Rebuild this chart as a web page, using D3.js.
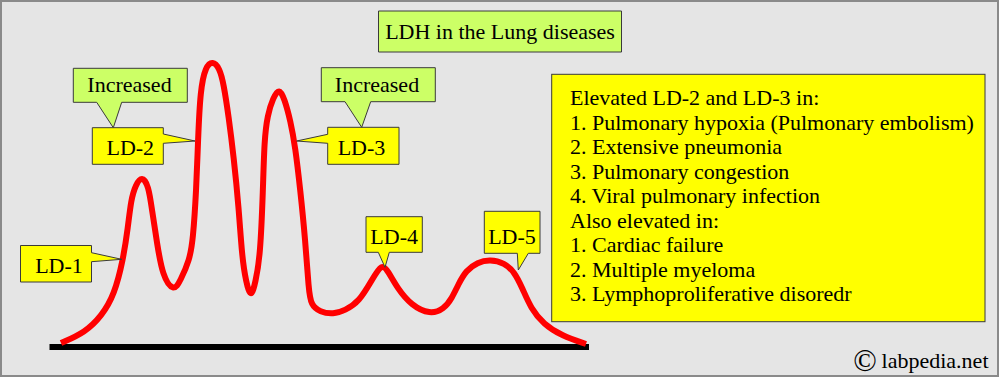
<!DOCTYPE html>
<html>
<head>
<meta charset="utf-8">
<script src="https://cdn.jsdelivr.net/npm/d3@7"></script>
<style>
  body { margin: 0; background: #fff; }
  svg { display: block; }
  text { font-family: "Liberation Serif", "Tinos", "Times New Roman", "DejaVu Serif", serif; }
</style>
</head>
<body>
<div id="chart"></div>
<script>
// Densitometry trace: migration distance vs. density (arbitrary units)
const traceX = [2, 26, 43, 55.3, 64, 69, 72, 76.5, 83, 89.5, 93, 98, 103.5, 114.5, 121.5,
  130.5, 134, 137.3, 139, 141.3, 146.5, 153.7, 160.5, 164.7, 169.7, 174.7, 179.7, 183, 187,
  192, 196.5, 201.3, 204, 205.3, 208.5, 214, 220.3, 225.5, 231.5, 236.3, 241.3, 246.3, 249.7,
  252, 261, 274.3, 286, 300, 313.5, 322.7, 329, 338.5, 352.5, 371, 385, 393, 399, 407,
  418.5, 431, 445.5, 455.5, 463.3, 472, 484.5, 503, 527];
const traceY = [3, 13.5, 30.5, 51.5, 85.5, 119, 146, 161, 170, 160.5, 136, 103, 70, 54, 65.5,
  86, 106, 156, 206, 256, 279.5, 285, 278, 262, 229, 189, 139, 89, 64,
  47, 64, 90, 156, 206, 231, 248, 258, 247, 225, 199, 156, 106, 56,
  41, 34, 31.7, 35.7, 44, 67, 82.5, 75, 57.5, 40.5, 31.5, 37, 48, 61, 75.5,
  83.7, 86.5, 83, 74, 58, 37.5, 22, 10, 2];

// Isoenzyme bands and where each label points on the trace
const bands = ["LD-1", "LD-2", "LD-3", "LD-4", "LD-5"];
const bandTipX = [62.7, 136, 237.7, 326, 459.3];
const bandTipY = [86.7, 205, 205, 78.7, 76];

const title = "LDH in the Lung diseases";
const flagText = "Increased";
const notes = [
  "Elevated LD-2 and LD-3 in:",
  "1. Pulmonary hypoxia (Pulmonary embolism)",
  "2. Extensive pneumonia",
  "3. Pulmonary congestion",
  "4. Viral pulmonary infection",
  "Also elevated in:",
  "1. Cardiac failure",
  "2. Multiple myeloma",
  "3. Lymphoproliferative disoredr"
];
const credit = "labpedia.net";

const W = 1000, H = 378;
const yellow = "#ffff00", green = "#ccff66", edge = "#3a3a3a";

const x = d3.scaleLinear().domain([0, 530]).range([59, 589]);
const y = d3.scaleLinear().domain([0, 290]).range([346, 56]);

const svg = d3.select("#chart").append("svg")
  .attr("width", W).attr("height", H);

// background + frame
svg.append("rect")
  .attr("x", 1).attr("y", 1).attr("width", W - 3).attr("height", H - 3)
  .attr("fill", "#e5e5e5").attr("stroke", "#8a8a8a").attr("stroke-width", 2);

// box with a triangular pointer on one side
function callout(b, side, p0, p1, tip) {
  const p = d3.path();
  const r = b.x + b.w, btm = b.y + b.h;
  p.moveTo(b.x, b.y);
  p.lineTo(r, b.y);
  if (side === "right") { p.lineTo(r, p0); p.lineTo(tip[0], tip[1]); p.lineTo(r, p1); }
  p.lineTo(r, btm);
  if (side === "bottom") { p.lineTo(p1, btm); p.lineTo(tip[0], tip[1]); p.lineTo(p0, btm); }
  p.lineTo(b.x, btm);
  if (side === "left") { p.lineTo(b.x, p1); p.lineTo(tip[0], tip[1]); p.lineTo(b.x, p0); }
  p.closePath();
  return p.toString();
}

function drawBox(b, side, p0, p1, tip, fill, label, tx, ty) {
  svg.append("path")
    .attr("d", callout(b, side, p0, p1, tip))
    .attr("fill", fill).attr("stroke", edge).attr("stroke-width", 1);
  if (label) {
    svg.append("text")
      .attr("x", tx).attr("y", ty)
      .attr("text-anchor", "middle")
      .attr("font-size", 22)
      .attr("fill", "#000")
      .text(label);
  }
}

// title
drawBox({x: 378.5, y: 11, w: 243, h: 41}, null, 0, 0, null, green, title, 500, 39);

// base line
svg.append("rect")
  .attr("x", 49.5).attr("y", 344).attr("width", 539.5).attr("height", 6)
  .attr("fill", "#000");

// trace
const line = d3.line()
  .x(d => x(d[0])).y(d => y(d[1]))
  .curve(d3.curveBasis);

svg.append("path")
  .datum(traceX.map((v, i) => [v, traceY[i]]))
  .attr("d", line)
  .attr("fill", "none")
  .attr("stroke", "#ff0000")
  .attr("stroke-width", 6)
  .attr("stroke-linejoin", "round");

const tips = bands.map((b, i) => [x(bandTipX[i]), y(bandTipY[i])]);

// band labels
drawBox({x: 20.5, y: 245.5, w: 71, h: 36.5}, "right", 252.7, 261.7, tips[0], yellow, bands[0], 59, 272.5);
drawBox({x: 92.3, y: 127.7, w: 71, h: 36.6}, "right", 134, 143.3, tips[1], yellow, bands[1], 130.3, 154.5);
drawBox({x: 327.7, y: 127.3, w: 71.3, h: 37}, "left", 134.3, 143.3, tips[2], yellow, bands[2], 361.5, 154.5);
drawBox({x: 366, y: 216.7, w: 56.3, h: 35.6}, "bottom", 378.3, 389.3, tips[3], yellow, bands[3], 394.2, 243.5);
drawBox({x: 484.3, y: 211.3, w: 55.7, h: 42}, "bottom", 517.3, 528.3, tips[4], yellow, bands[4], 512, 244);

// "Increased" flags point at the LD-2 and LD-3 boxes
drawBox({x: 73.3, y: 68.3, w: 114, h: 34}, "bottom", 96.7, 121.7, [113.3, 127.7], green, flagText, 129.5, 92.3);
drawBox({x: 321.3, y: 67.7, w: 114, h: 34}, "bottom", 345, 370.7, [361.7, 127.3], green, flagText, 377, 91.7);

// notes box
svg.append("rect")
  .attr("x", 551.7).attr("y", 74.3).attr("width", 433.3).attr("height", 247.4)
  .attr("fill", yellow).attr("stroke", edge).attr("stroke-width", 1);

svg.append("g")
  .selectAll("text")
  .data(notes)
  .join("text")
  .attr("x", 570)
  .attr("y", (d, i) => 105 + i * 24.5)
  .attr("font-size", 22)
  .attr("fill", "#000")
  .text(d => d);

// credit
svg.append("text")
  .attr("x", 865).attr("y", 370.5)
  .attr("text-anchor", "middle")
  .attr("font-size", 31)
  .text("\u00a9");
svg.append("text")
  .attr("x", 988.5).attr("y", 367.5)
  .attr("text-anchor", "end")
  .attr("font-size", 22)
  .text(credit);
</script>
</body>
</html>
